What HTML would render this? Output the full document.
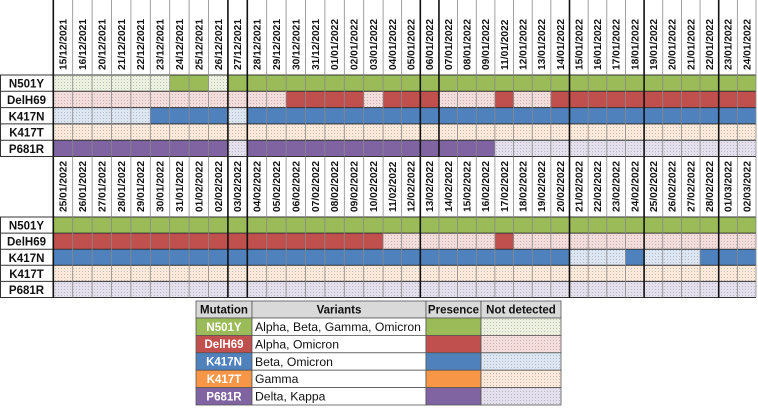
<!DOCTYPE html>
<html><head><meta charset="utf-8"><style>
html,body{margin:0;padding:0;background:#fff;}
svg{display:block;font-family:"Liberation Sans",sans-serif;}
</style></head><body>
<svg id="chart" width="758" height="408" viewBox="0 0 758 408" xmlns="http://www.w3.org/2000/svg">
<defs>
<pattern id="dots" width="3" height="3" patternUnits="userSpaceOnUse"><rect x="1" y="1" width="1" height="1" fill="#9a9a9a" opacity="0.55"/></pattern>
</defs>
<g id="g"></g>
</svg>
<script>
const mutations = ["N501Y","DelH69","K417N","K417T","P681R"];
const variants = ["Alpha, Beta, Gamma, Omicron","Alpha, Omicron","Beta, Omicron","Gamma","Delta, Kappa"];
const datesTop = ["15/12/2021","16/12/2021","20/12/2021","21/12/2021","22/12/2021","23/12/2021","24/12/2021","25/12/2021","26/12/2021","27/12/2021","28/12/2021","29/12/2021","30/12/2021","31/12/2021","01/01/2022","02/01/2022","03/01/2022","04/01/2022","05/01/2022","06/01/2022","07/01/2022","08/01/2022","09/01/2022","11/01/2022","12/01/2022","13/01/2022","14/01/2022","15/01/2022","16/01/2022","17/01/2022","18/01/2022","19/01/2022","20/01/2022","21/01/2022","22/01/2022","23/01/2022","24/01/2022"];
const datesBottom = ["25/01/2022","26/01/2022","27/01/2022","28/01/2022","29/01/2022","30/01/2022","31/01/2022","01/02/2022","02/02/2022","03/02/2022","04/02/2022","05/02/2022","06/02/2022","07/02/2022","08/02/2022","09/02/2022","10/02/2022","11/02/2022","12/02/2022","13/02/2022","14/02/2022","15/02/2022","16/02/2022","17/02/2022","18/02/2022","19/02/2022","20/02/2022","21/02/2022","22/02/2022","23/02/2022","24/02/2022","25/02/2022","26/02/2022","27/02/2022","28/02/2022","01/03/2022","02/03/2022"];
const topN501Y  = [0,0,0,0,0,0,1,1,0,1,1,1,1,1,1,1,1,1,1,1,1,1,1,1,1,1,1,1,1,1,1,1,1,1,1,1,1];
const topDelH69 = [0,0,0,0,0,0,0,0,0,0,0,0,1,1,1,1,0,1,1,1,0,0,0,1,0,0,1,1,1,1,1,1,1,1,1,1,1];
const topK417N  = [0,0,0,0,0,1,1,1,1,0,1,1,1,1,1,1,1,1,1,1,1,1,1,1,1,1,1,1,1,1,1,1,1,1,1,1,1];
const topK417T  = [0,0,0,0,0,0,0,0,0,0,0,0,0,0,0,0,0,0,0,0,0,0,0,0,0,0,0,0,0,0,0,0,0,0,0,0,0];
const topP681R  = [1,1,1,1,1,1,1,1,1,0,1,1,1,1,1,1,1,1,1,1,1,1,1,0,0,0,0,0,0,0,0,0,0,0,0,0,0];
const botN501Y  = [1,1,1,1,1,1,1,1,1,1,1,1,1,1,1,1,1,1,1,1,1,1,1,1,1,1,1,1,1,1,1,1,1,1,1,1,1];
const botDelH69 = [1,1,1,1,1,1,1,1,1,1,1,1,1,1,1,1,1,0,0,0,0,0,0,1,0,0,0,0,0,0,0,0,0,0,0,0,0];
const botK417N  = [1,1,1,1,1,1,1,1,1,1,1,1,1,1,1,1,1,1,1,1,1,1,1,1,1,1,1,0,0,0,1,0,0,0,1,1,1];
const botK417T  = [0,0,0,0,0,0,0,0,0,0,0,0,0,0,0,0,0,0,0,0,0,0,0,0,0,0,0,0,0,0,0,0,0,0,0,0,0];
const botP681R  = [0,0,0,0,0,0,0,0,0,0,0,0,0,0,0,0,0,0,0,0,0,0,0,0,0,0,0,0,0,0,0,0,0,0,0,0,0];
const thickTop = [9,10,19,20,27,31,35];
const thickBottom = [9,10,19,27,31,35];

const full = ["#9bbb59","#c0504d","#4f81bd","#f79646","#8064a2"];
const tint = ["#ebf1de","#f4dcdb","#dce6f2","#fde9d9","#e4dfec"];
const NS="http://www.w3.org/2000/svg";
const g=document.getElementById('g');
function el(t,a,p){const e=document.createElementNS(NS,t);for(const k in a)e.setAttribute(k,a[k]);(p||g).appendChild(e);return e;}
function xs(i){return i<=17?53.3+19.4*i:383+18.65*(i-17);}

function block(dates,series,thick,hTop,hBot,rowH,prefix){
  const n=dates.length;
  const hdr=el('rect',{x:53,y:hTop,width:703,height:hBot-hTop,fill:'#fff'});
  
  
  for(let i=0;i<n;i++){
    const cx=(xs(i)+xs(i+1))/2+3.6;
    const t=el('text',{x:0,y:0,transform:`translate(${cx},${hBot-5}) rotate(-90)`,'font-size':'10.2','font-weight':'bold',fill:'#111'});
    t.textContent=dates[i];
    
    
  }
  series.forEach((s,r)=>{
    const y=hBot+r*rowH;
    const lab=el('text',{x:26.5,y:y+rowH/2+4.5,'text-anchor':'middle','font-size':'11.5','font-weight':'bold',fill:'#111'});
    lab.textContent=mutations[r];
    
    
    for(let i=0;i<n;i++){
      const x0=xs(i),w=xs(i+1)-xs(i);
      const c=el('rect',{x:x0,y:y,width:w,height:rowH,fill:s[i]?full[r]:tint[r]});
      
      
      if(!s[i]){const d=el('rect',{x:x0,y:y,width:w,height:rowH,fill:'url(#dots)'});
        
        }
    }
    el('line',{x1:0,x2:756,y1:y,y2:y,stroke:'#333','stroke-width':1});
  });
  const yEnd=hBot+series.length*rowH;
  el('line',{x1:0,x2:756,y1:yEnd,y2:yEnd,stroke:'#333','stroke-width':1});
  for(let i=0;i<=n;i++){
    const tk=thick.includes(i)||i===0;
    el('line',{x1:xs(i),x2:xs(i),y1:hTop,y2:yEnd,stroke:tk?'#111':'#888','stroke-width':tk?1.6:0.8});
  }
  el('line',{x1:0.5,x2:0.5,y1:hBot,y2:yEnd,stroke:'#333','stroke-width':1});
}
block(datesTop,[topN501Y,topDelH69,topK417N,topK417T,topP681R],thickTop,0,75,16.3,'top');
block(datesBottom,[botN501Y,botDelH69,botK417N,botK417T,botP681R],thickBottom,157,217,16.1,'bottom');

const lx=[196,252,426,481,561], ly0=301, lh=17, rh=17.4;
const heads=["Mutation","Variants","Presence","Not detected"];
for(let c=0;c<4;c++){
  const r=el('rect',{x:lx[c],y:ly0,width:lx[c+1]-lx[c],height:lh,fill:'#d9d9d9',stroke:'#555','stroke-width':0.8});
  
  
  const t=el('text',{x:(lx[c]+lx[c+1])/2,y:ly0+12.5,'text-anchor':'middle','font-size':'11.5','font-weight':'bold',fill:'#111'});
  t.textContent=heads[c];
  
  
}
mutations.forEach((m,r)=>{
  const y=ly0+lh+r*rh;
  const a=el('rect',{x:lx[0],y:y,width:lx[1]-lx[0],height:rh,fill:full[r],stroke:'#555','stroke-width':0.8});
  
  
  const at=el('text',{x:(lx[0]+lx[1])/2,y:y+12.8,'text-anchor':'middle','font-size':'11.5','font-weight':'bold',fill:'#fff'});
  at.textContent=m;
  
  
  const b=el('rect',{x:lx[1],y:y,width:lx[2]-lx[1],height:rh,fill:'#fff',stroke:'#555','stroke-width':0.8});
  
  
  const bt=el('text',{x:lx[1]+3,y:y+13,'font-size':'12.2',fill:'#111'});
  bt.textContent=variants[r];
  
  
  const p=el('rect',{x:lx[2],y:y,width:lx[3]-lx[2],height:rh,fill:full[r],stroke:'#555','stroke-width':0.8});
  
  
  const q=el('rect',{x:lx[3],y:y,width:lx[4]-lx[3],height:rh,fill:tint[r],stroke:'#555','stroke-width':0.8});
  
  
  const qd=el('rect',{x:lx[3],y:y,width:lx[4]-lx[3],height:rh,fill:'url(#dots)'});
  
  
});
</script>
</body></html>
